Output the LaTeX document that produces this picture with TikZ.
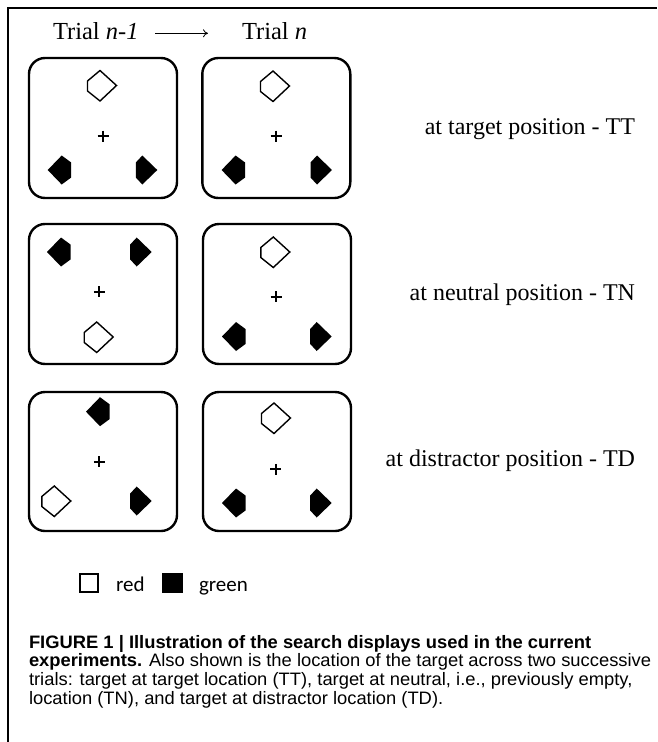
\documentclass[tikz,border=0pt]{standalone}
\usepackage{fontspec}
\setmainfont{Liberation Serif}
\newfontfamily\capfont{Liberation Sans}
\newfontfamily\legfont{Carlito}
\usetikzlibrary{arrows.meta,calc}
\newcommand{\wideC}[1]{\scalebox{1.02}[1]{#1}}
\tikzset{
  disp/.style={draw, line width=2.4pt, rounded corners=16pt, minimum width=148pt,
    minimum height=140pt, inner sep=0pt, outer sep=0pt, anchor=north west},
  txt/.style={inner sep=0pt, outer sep=0pt, anchor=base west},
  rtxt/.style={inner sep=0pt, outer sep=0pt, anchor=base east,
    font=\fontsize{24pt}{28pt}\selectfont},
  ttl/.style={txt, font=\fontsize{24.5pt}{28pt}\selectfont},
  captxt/.style={txt, font=\capfont\fontsize{18pt}{19pt}\selectfont},
  legtxt/.style={txt, font=\legfont\fontsize{21pt}{24pt}\selectfont},
  legbox/.style={line width=2.5pt, minimum size=18pt, inner sep=0pt, outer sep=0pt},
  openp/.pic={\draw[line width=1.4pt, fill=white, line join=miter]
     (0,-15)--(16.5,0)--(0,15.5)--(-12.5,5.5)--(-12.5,-4.5)--cycle;},
  fillR/.pic={\fill (0,-14.5)--(9.5,-7.5)--(9.5,7.5)--(0,14.5)--(-14,0)--cycle;},
  fillL/.pic={\fill (0,-14.5)--(15,0)--(0,14.5)--(-6.5,7.5)--(-6.5,-7.5)--cycle;},
  plusp/.pic={\draw[line width=1.8pt] (-5.5,0)--(5.5,0) (0,-5.5)--(0,5.5);}
}
\begin{document}
\begin{tikzpicture}[x=1pt,y=-1pt]
\useasboundingbox (0,0) rectangle (657,742);
\fill[white] (0,0) rectangle (657,742);
% frame
\draw[line width=2.2pt, line join=miter] (8,742) -- (8,8) -- (657,8);

% titles
\node[ttl] (t1) at (53,39) {Trial \textit{n-1}};
\node[ttl] (t2) at (242,39) {Trial \textit{n}};
\draw[line width=0.8pt, -{To[length=5pt,width=8pt]}]
  ([xshift=102pt,yshift=5.7pt]t1.base west) -- ([xshift=-34pt,yshift=5.7pt]t2.base west);

% displays
\node[disp] (d11) at (29,58) {};
\node[disp] (d12) at (202.3,58) {};
\node[disp] (d21) at (29,224) {};
\node[disp] (d22) at (203,224) {};
\node[disp, minimum height=139pt] (d31) at (29,392) {};
\node[disp, minimum height=139pt] (d32) at (203,392) {};

% row 1
\pic at ($(d11.north west)+(71,27.5)$) {openp};
\pic at ($(d11.north west)+(74,78)$) {plusp};
\pic at ($(d11.north west)+(32.7,112)$) {fillR};
\pic at ($(d11.north west)+(113.3,112)$) {fillL};
\pic at ($(d12.north west)+(70.7,28)$) {openp};
\pic at ($(d12.north west)+(73.7,78)$) {plusp};
\pic at ($(d12.north west)+(33.3,112)$) {fillR};
\pic at ($(d12.north west)+(114.7,112)$) {fillL};
% row 2
\pic at ($(d21.north west)+(32,28)$) {fillR};
\pic at ($(d21.north west)+(107.7,28)$) {fillL};
\pic at ($(d21.north west)+(70.3,67.7)$) {plusp};
\pic at ($(d21.north west)+(67.7,113)$) {openp};
\pic at ($(d22.north west)+(70.3,28)$) {openp};
\pic at ($(d22.north west)+(73,72.7)$) {plusp};
\pic at ($(d22.north west)+(33,112.5)$) {fillR};
\pic at ($(d22.north west)+(113.7,112.5)$) {fillL};
% row 3
\pic at ($(d31.north west)+(71,19.7)$) {fillR};
\pic at ($(d31.north west)+(70.3,69.7)$) {plusp};
\pic at ($(d31.north west)+(25.3,109)$) {openp};
\pic at ($(d31.north west)+(107.7,109)$) {fillL};
\pic at ($(d32.north west)+(71,26)$) {openp};
\pic at ($(d32.north west)+(72.7,77.3)$) {plusp};
\pic at ($(d32.north west)+(33,111)$) {fillR};
\pic at ($(d32.north west)+(113.7,111)$) {fillL};

% labels
\node[rtxt] (l1) at (635,134.3) {at target position - TT};
\node[rtxt] (l2) at (635,300) {at neutral position - TN};
\node[rtxt] (l3) at (635,466.7) {at distractor position - TD};

% legend
\node[legbox, draw] (lr) at (89,583) {};
\node[legtxt] (lrt) at (116,591) {red};
\node[legbox, draw, fill] (lg) at (172.5,583) {};
\node[legtxt] (lgt) at (199,591) {green};

% caption
\node[captxt] (c1) at (29,648.3) {\wideC{\bfseries FIGURE 1 | Illustration of the search displays used in the current}};
\node[captxt] (c2) at (29,666.7) {\wideC{\textbf{experiments.} Also shown is the location of the target across two successive}};
\node[captxt] (c3) at (29,685) {\wideC{trials: target at target location (TT), target at neutral, i.e., previously empty,}};
\node[captxt] (c4) at (29,704) {\wideC{location (TN), and target at distractor location (TD).}};
\end{tikzpicture}
\end{document}
